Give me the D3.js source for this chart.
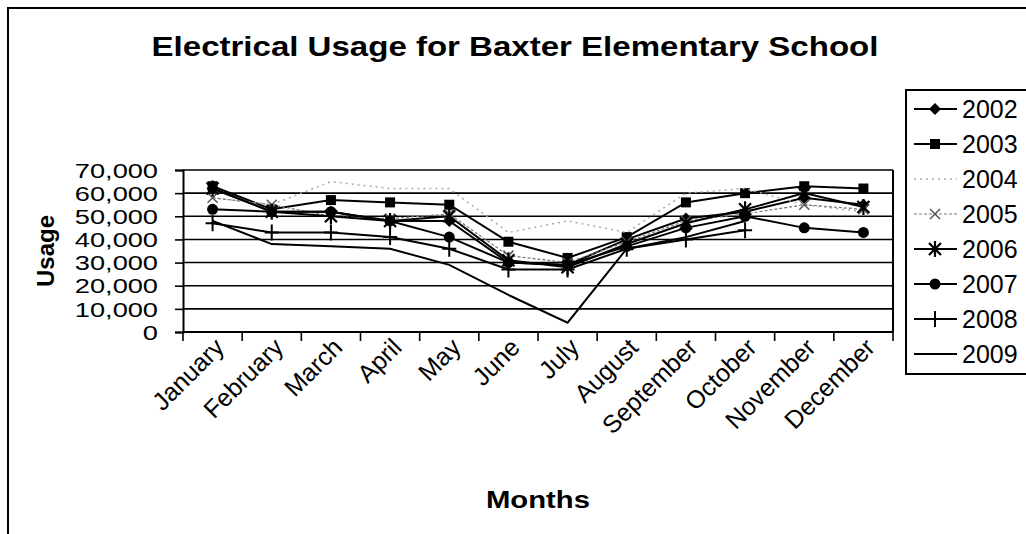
<!DOCTYPE html>
<html lang="en">
<head>
  <meta charset="utf-8">
  <title>Electrical Usage</title>
  <script src="https://cdn.jsdelivr.net/npm/d3@7"></script>
  <style type="text/css">
    body{ margin:0; background:#fff; }
    text{ font-family: "Liberation Sans", Arial, sans-serif; fill:#000; }
  </style>
</head>
<body>
  <script type="text/javascript">

    var width = 1026;
    var height = 534;

    // the data
    var months = ["January","February","March","April","May","June","July",
                  "August","September","October","November","December"];
    var years = ["2002","2003","2004","2005","2006","2007","2008","2009"];
    var usage2002 = [62000,52000,52000,48000,48000,30000,29000,40000,49000,52000,58000,55000];
    var usage2003 = [63000,53000,57000,56000,55000,39000,32000,41000,56000,60000,63000,62000];
    var usage2004 = [58000,55000,65000,62000,62000,43000,48000,43000,60000,62000,55000,52000];
    var usage2005 = [58000,55000,50000,49000,51000,33000,30000,39000,48000,51000,55000,53000];
    var usage2006 = [62000,52000,50000,48000,50000,31000,28000,38000,47000,53000,60000,54000];
    var usage2007 = [53000,52000,52000,48000,41000,30000,29000,37000,45000,50000,45000,43000];
    var usage2008 = [47000,43000,43000,41000,36000,27000,27000,36000,40000,44000];
    var usage2009 = [48000,38000,37000,36000,29000,16000,4000,36000,41000,48000];
    var yTicks = [0,10000,20000,30000,40000,50000,60000,70000];

    var allSeries = [usage2002,usage2003,usage2004,usage2005,usage2006,usage2007,usage2008,usage2009];
    var markers = ["diamond","square","none","cross","star","circle","plus","none"];

    var plot = {left:183, right:893, top:170, bottom:332};

    var svg = d3.select("body")
            .append("svg")
            .attr("width", width)
            .attr("height", height);

    // outer frame (only left and top show in the scan)
    svg.append("path")
        .attr("d", "M8," + height + "V8H" + width)
        .attr("fill","none")
        .attr("stroke","#000")
        .attr("stroke-width",2);

    // the scan is a bit wider than tall, so text is stretched sideways
    svg.append("text")
        .attr("transform","translate(515,56) scale(1.18,1)")
        .attr("text-anchor","middle")
        .style("font-size","28px")
        .style("font-weight","bold")
        .text("Electrical Usage for Baxter Elementary School");

    var xScale = d3.scaleBand().domain(months).range([plot.left, plot.right]).padding(0);
    var yScale = d3.scaleLinear().domain([0,70000]).range([plot.bottom, plot.top]);
    function cx(i){ return xScale(months[i]) + xScale.bandwidth()/2; }

    // gridlines
    svg.selectAll(".grid")
        .data(yTicks)
        .enter()
        .append("line")
        .attr("class","grid")
        .attr("x1", plot.left).attr("x2", plot.right)
        .attr("y1", function(d){ return yScale(d); })
        .attr("y2", function(d){ return yScale(d); })
        .attr("stroke","#000")
        .attr("stroke-width",1.6);

    // plot frame right side
    svg.append("line")
        .attr("x1", plot.right).attr("x2", plot.right)
        .attr("y1", plot.top).attr("y2", plot.bottom)
        .attr("stroke","#000").attr("stroke-width",2);

    // y axis
    var yAxis = d3.axisLeft(yScale)
        .tickValues(yTicks)
        .tickSize(8)
        .tickFormat(d3.format(","));
    svg.append("g")
        .attr("transform","translate(" + plot.left + ",0)")
        .call(yAxis)
        .call(function(g){
            g.selectAll("text")
                .attr("x", 0)
                .attr("dy", "0.36em")
                .attr("transform","translate(-25,0) scale(1.36,1)")
                .style("font-size","20px");
            g.selectAll("line").attr("stroke","#000").attr("stroke-width",1.6);
            g.select(".domain").attr("stroke","#000").attr("stroke-width",2);
        });

    // x axis line + ticks between the months
    svg.append("line")
        .attr("x1", plot.left).attr("x2", plot.right)
        .attr("y1", plot.bottom).attr("y2", plot.bottom)
        .attr("stroke","#000").attr("stroke-width",2);
    var edges = months.map(function(m){ return xScale(m); }).concat([plot.right]);
    svg.selectAll(".xtick")
        .data(edges)
        .enter()
        .append("line")
        .attr("x1", function(d){ return d; }).attr("x2", function(d){ return d; })
        .attr("y1", plot.bottom).attr("y2", plot.bottom + 9)
        .attr("stroke","#000").attr("stroke-width",1.6);

    svg.selectAll(".xlab")
        .data(months)
        .enter()
        .append("text")
        .attr("class","xlab")
        .attr("text-anchor","end")
        .style("font-size","25px")
        .attr("transform", function(d,i){
            return "translate(" + (cx(i) + 13) + "," + (plot.bottom + 17) + ") rotate(-45)";
        })
        .text(function(d){ return d; });

    svg.append("text")
        .attr("transform","translate(" + ((plot.left + plot.right)/2) + ",508) scale(1.22,1)")
        .attr("text-anchor","middle")
        .style("font-size","24px")
        .style("font-weight","bold")
        .text("Months");

    svg.append("text")
        .attr("transform","translate(54," + ((plot.top + plot.bottom)/2) + ") rotate(-90)")
        .attr("text-anchor","middle")
        .style("font-size","24px")
        .style("font-weight","bold")
        .text("Usage");

    // lines
    var line = d3.line()
        .x(function(d,i){ return cx(i); })
        .y(function(d){ return yScale(d); });

    function lineStyle(sel, k){
        if(k == 2){
            sel.attr("stroke","#aaa").attr("stroke-width",1.5).attr("stroke-dasharray","2,4");
        } else if(k == 3){
            sel.attr("stroke","#777").attr("stroke-width",1.2).attr("stroke-dasharray","3,2");
        } else {
            sel.attr("stroke","#000").attr("stroke-width",2);
        }
    }

    function drawMarker(g, type, x, y){
        if(type == "diamond"){
            g.append("path").attr("d","M"+x+","+(y-6)+"L"+(x+6)+","+y+"L"+x+","+(y+6)+"L"+(x-6)+","+y+"Z").attr("fill","#000");
        } else if(type == "square"){
            g.append("rect").attr("x",x-5).attr("y",y-5).attr("width",10).attr("height",10).attr("fill","#000");
        } else if(type == "circle"){
            g.append("circle").attr("cx",x).attr("cy",y).attr("r",5.5).attr("fill","#000");
        } else if(type == "cross"){
            g.append("path").attr("d","M"+(x-5)+","+(y-5)+"L"+(x+5)+","+(y+5)+"M"+(x+5)+","+(y-5)+"L"+(x-5)+","+(y+5))
                .attr("stroke","#555").attr("stroke-width",1.5);
        } else if(type == "star"){
            g.append("path").attr("d","M"+(x-6)+","+(y-6)+"L"+(x+6)+","+(y+6)+"M"+(x+6)+","+(y-6)+"L"+(x-6)+","+(y+6)+"M"+x+","+(y-8)+"V"+(y+8))
                .attr("stroke","#000").attr("stroke-width",2.2);
        } else if(type == "plus"){
            g.append("path").attr("d","M"+(x-7)+","+y+"H"+(x+7)+"M"+x+","+(y-8)+"V"+(y+8))
                .attr("stroke","#000").attr("stroke-width",2);
        }
    }

    allSeries.forEach(function(vals, k){
        var g = svg.append("g").attr("class","series");
        g.append("path")
            .datum(vals)
            .attr("d", line)
            .attr("fill","none")
            .call(lineStyle, k);
        vals.forEach(function(v,i){
            drawMarker(g, markers[k], cx(i), yScale(v));
        });
    });

    // legend
    var legendTop = 90;
    var legendStep = 35;
    svg.append("rect")
        .attr("x", 906).attr("y", legendTop)
        .attr("width", 140).attr("height", legendStep*years.length + 4)
        .attr("fill","#fff").attr("stroke","#000").attr("stroke-width",2);

    years.forEach(function(yr, k){
        var ly = legendTop + 19 + k*legendStep;
        var g = svg.append("g");
        g.append("line")
            .attr("x1", 914).attr("x2", 957)
            .attr("y1", ly).attr("y2", ly)
            .call(lineStyle, k);
        drawMarker(g, markers[k], 935, ly);
        g.append("text")
            .attr("x", 962).attr("y", ly + 9)
            .style("font-size","25px")
            .text(yr);
    });

  </script>
</body>
</html>
